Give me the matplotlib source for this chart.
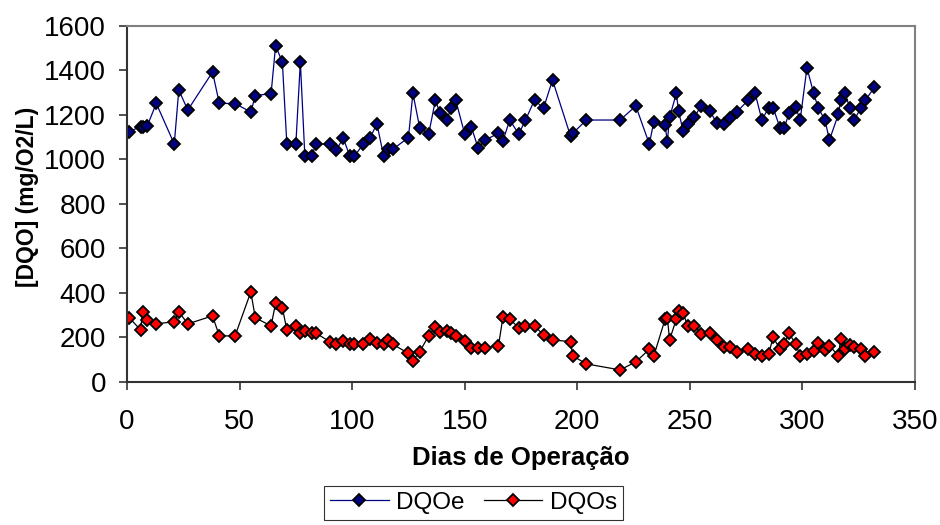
import matplotlib
matplotlib.use('Agg')
import matplotlib.pyplot as plt

plt.rcParams['font.family'] = ['Liberation Sans', 'DejaVu Sans']

# dias de operacao (comuns as duas series)
days = [1, 6, 7, 9, 13, 21, 23, 27, 38, 41,
        48, 55, 57, 64, 66, 69, 71, 75, 77, 79,
        82, 84, 90, 93, 96, 99, 101, 105, 108, 111,
        114, 116, 118, 125, 127, 130, 134, 137, 139, 142,
        144, 146, 150, 153, 156, 159, 165, 167, 170, 174,
        177, 181, 185, 189, 197, 198, 204, 219, 226, 232,
        234, 239, 240, 241, 244, 245, 247, 249, 252, 255,
        259, 262, 265, 268, 271, 276, 279, 282, 285, 287,
        290, 292, 294, 297, 299, 302, 305, 307, 310, 312,
        316, 317, 319, 321, 323, 326, 328, 332]

# DQO de entrada
dqoe = [1125, 1147, 1147, 1150, 1252, 1069, 1312, 1222, 1393, 1252,
        1251, 1213, 1287, 1296, 1511, 1438, 1069, 1069, 1438, 1015,
        1015, 1069, 1069, 1042, 1096, 1015, 1015, 1069, 1098, 1160,
        1015, 1045, 1045, 1098, 1297, 1143, 1114, 1267, 1207, 1177,
        1230, 1267, 1114, 1144, 1050, 1087, 1117, 1084, 1177, 1114,
        1177, 1267, 1230, 1357, 1105, 1117, 1177, 1177, 1240, 1069,
        1170, 1155, 1080, 1189, 1297, 1216, 1129, 1159, 1189, 1242,
        1216, 1162, 1159, 1185, 1215, 1267, 1297, 1177, 1232, 1232,
        1143, 1143, 1207, 1234, 1177, 1412, 1297, 1232, 1177, 1087,
        1204, 1267, 1297, 1232, 1177, 1232, 1267, 1324]

# DQO de saida
dqos = [288, 233, 315, 279, 260, 270, 315, 260, 296, 206,
        206, 404, 287, 251, 353, 333, 233, 251, 218, 229,
        218, 218, 180, 170, 184, 170, 170, 170, 191, 173,
        168, 188, 168, 128, 95, 135, 206, 247, 225, 229,
        218, 207, 184, 150, 153, 153, 161, 292, 281, 243,
        251, 251, 210, 188, 180, 116, 80, 53, 89, 146,
        116, 281, 288, 188, 282, 319, 308, 252, 252, 215,
        218, 188, 157, 155, 135, 147, 125, 116, 125, 200,
        146, 170, 218, 170, 116, 125, 138, 173, 143, 162,
        116, 191, 146, 165, 155, 147, 116, 135]

fig = plt.figure(figsize=(9.4, 5.25), dpi=100)
ax = fig.add_axes([0.1351, 0.2730, 0.8383, 0.6775])

ax.plot(days, dqoe, '-D', color='#000080', lw=0.9, ms=6.2,
        mfc='#000080', mec='black', mew=1.3, label='DQOe')
ax.plot(days, dqos, '-D', color='black', lw=0.9, ms=6.2,
        mfc='#ff0000', mec='black', mew=1.3, label='DQOs')

ax.set_xlim(0, 350)
ax.set_ylim(0, 1600)
ax.set_xticks(range(0, 351, 50))
ax.set_yticks(range(0, 1601, 200))
ax.tick_params(direction='out', length=6, width=1.2, labelsize=20,
               color='#333333')
ax.tick_params(axis='x', pad=14)
ax.tick_params(axis='y', pad=9)

for s in ['top', 'right']:
    ax.spines[s].set_color('#808080')
    ax.spines[s].set_linewidth(1.5)
for s in ['left', 'bottom']:
    ax.spines[s].set_color('#333333')
    ax.spines[s].set_linewidth(1.5)

ax.set_xlabel('Dias de Operação', fontsize=18.5, fontweight='bold')
ax.set_ylabel('[DQO] (mg/O2/L)', fontsize=16.5, fontweight='bold')
ax.xaxis.set_label_coords(0.5, -0.18)
ax.yaxis.set_label_coords(-0.112, 0.52)

leg = fig.legend(loc='center', bbox_to_anchor=(0.5037, 0.042), ncol=2,
                 fontsize=17.5, frameon=True, fancybox=False, numpoints=1,
                 handlelength=2.4, handletextpad=0.3, columnspacing=0.8,
                 borderpad=0.25, borderaxespad=0)
leg.get_frame().set_edgecolor('black')
leg.get_frame().set_linewidth(0.8)

fig.savefig('out.png', dpi=100)
